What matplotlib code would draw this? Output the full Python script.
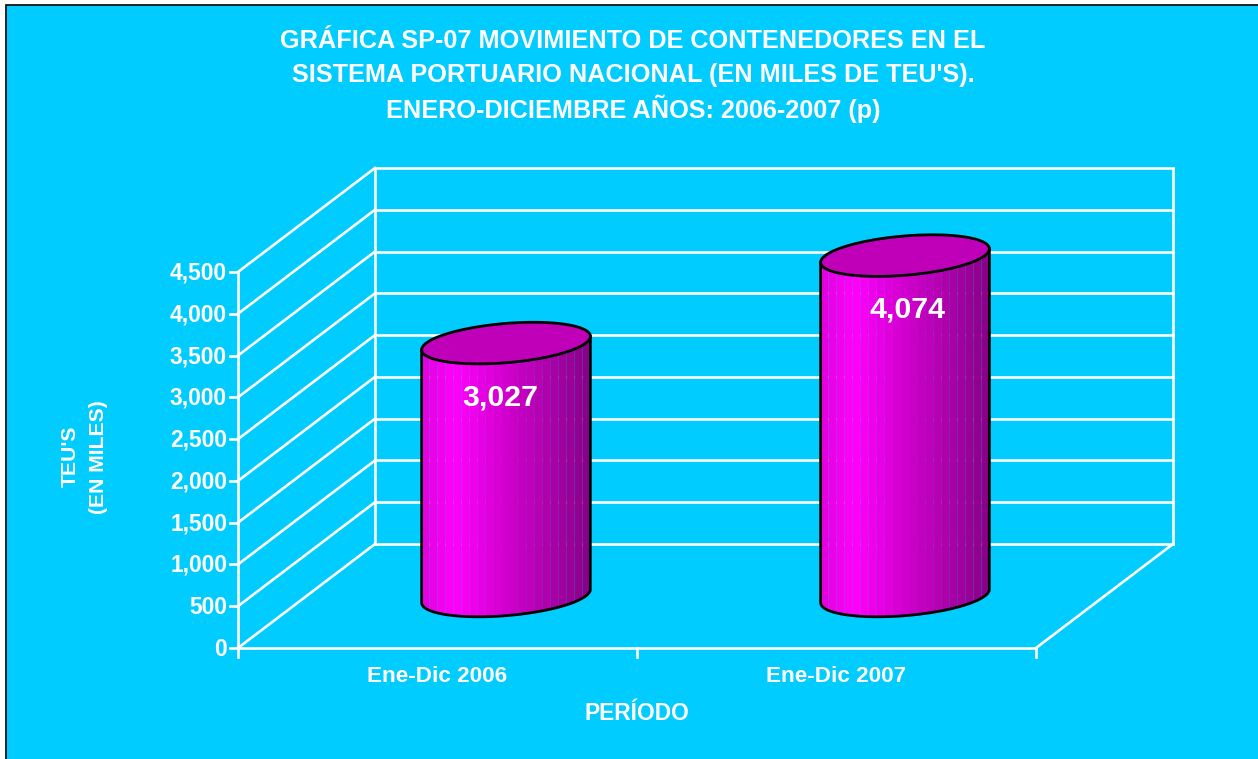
import numpy as np
import matplotlib
matplotlib.use('Agg')
import matplotlib.pyplot as plt
from matplotlib.patches import Rectangle, Polygon

periodos = ['Ene-Dic 2006', 'Ene-Dic 2007']
teus = [3027, 4074]
etiquetas = ['3,027', '4,074']
y_ticks = [0, 500, 1000, 1500, 2000, 2500, 3000, 3500, 4000, 4500]
y_labels = ['0', '500', '1,000', '1,500', '2,000', '2,500', '3,000', '3,500', '4,000', '4,500']
titulo = ["GRÁFICA SP-07 MOVIMIENTO DE CONTENEDORES EN EL",
          "SISTEMA PORTUARIO NACIONAL (EN MILES DE TEU'S).",
          "ENERO-DICIEMBRE AÑOS: 2006-2007 (p)"]

plt.rcParams['font.family'] = ['Liberation Sans', 'DejaVu Sans']

X0, Y0 = 238, 648      # origen del eje, en pixeles
CAT_W = 399            # ancho de cada categoria
Y_MAX = 4500
Y_H = 376
DX, DY = 137, -104     # desplazamiento de la pared del fondo
R_X, R_Z = 0.2, 0.2    # radio del cilindro
N_TIRAS = 21
ETQ_DX = [-6, 2]       # corrimiento de las etiquetas de valor
ETQ_DY = [54, 54]

def proy(x, v, z):
    # x en categorias, v en miles de TEU, z profundidad 0-1
    return X0 + np.asarray(x)*CAT_W + np.asarray(z)*DX, Y0 - np.asarray(v)*Y_H/Y_MAX + np.asarray(z)*DY

def color_tira(f):
    # brillo: sube al principio y luego baja hacia la derecha
    if f < 0.2:
        k = 0.88 + 0.12*f/0.2
    else:
        k = 1.0 - 0.47*(f-0.2)/0.8
    return (k, 0, k*0.98)

def linea(ax, p1, p2, lw=1.9):
    ax.plot([p1[0], p2[0]], [p1[1], p2[1]], color='white', lw=lw, solid_capstyle='projecting', zorder=2)

fig = plt.figure(figsize=(12.58, 7.59), dpi=100, facecolor='white')
ax = fig.add_axes([0, 0, 1, 1])
ax.set_xlim(0, 1258)
ax.set_ylim(759, 0)
ax.axis('off')
ax.add_patch(Rectangle((6, 5), 1300, 800, facecolor='#00CCFF', edgecolor='black', lw=1.2, zorder=0))

# paredes
for v in y_ticks:
    linea(ax, proy(0, v, 0), proy(0, v, 1))
    linea(ax, proy(0, v, 1), proy(2, v, 1))
linea(ax, proy(0, 0, 1), proy(0, Y_MAX, 1))
linea(ax, proy(2, 0, 1), proy(2, Y_MAX, 1))
linea(ax, proy(0, 0, 0), proy(2, 0, 0))
linea(ax, proy(2, 0, 0), proy(2, 0, 1))
linea(ax, proy(0, 0, 0), proy(0, Y_MAX, 0))

# ticks
for v, lab in zip(y_ticks, y_labels):
    px, py = proy(0, v, 0)
    ax.plot([px-8, px], [py, py], color='white', lw=1.9, zorder=2)
    ax.text(px-11, py+1, lab, color='white', fontsize=16.4, fontweight='bold', ha='right', va='center')
for i in range(3):
    px, py = proy(i, 0, 0)
    ax.plot([px, px], [py, py+9], color='white', lw=1.9, zorder=2)
for i, nom in enumerate(periodos):
    px, py = proy(i+0.5, 0, 0)
    ax.text(px, 676, nom, color='white', fontsize=16.2, fontweight='bold', ha='center', va='center')

# cilindros
t0 = np.arctan2(R_Z*DX, R_X*CAT_W)
for i, val in enumerate(teus):
    xc = i + 0.5
    ts = t0 - np.arccos(np.linspace(1, -1, N_TIRAS+1))
    tf = np.linspace(t0, t0-np.pi, 200)
    for j in range(N_TIRAS):
        tt = np.linspace(ts[j], ts[j+1], 6)
        bx, by = proy(xc + R_X*np.cos(tt), 0, 0.5 + R_Z*np.sin(tt))
        ax_, ay_ = proy(xc + R_X*np.cos(tt), val, 0.5 + R_Z*np.sin(tt))
        pts = np.column_stack([np.r_[bx, ax_[::-1]], np.r_[by, ay_[::-1]]])
        f = 1 - (j+0.5)/N_TIRAS
        ax.add_patch(Polygon(pts, closed=True, facecolor=color_tira(f), edgecolor='none', zorder=3))
    # contorno de abajo y lados
    bx, by = proy(xc + R_X*np.cos(tf), 0, 0.5 + R_Z*np.sin(tf))
    tx, ty = proy(xc + R_X*np.cos(tf), val, 0.5 + R_Z*np.sin(tf))
    ax.plot(np.r_[tx[0], bx, tx[-1]], np.r_[ty[0], by, ty[-1]], color='black', lw=2.0, zorder=4)
    # tapa
    ta = np.linspace(0, 2*np.pi, 200)
    ex, ey = proy(xc + R_X*np.cos(ta), val, 0.5 + R_Z*np.sin(ta))
    ax.add_patch(Polygon(np.column_stack([ex, ey]), closed=True, facecolor='#BF00B8', edgecolor='black', lw=2.0, zorder=5))
    cx, cy = proy(xc, val, 0.5)
    ax.text(cx+ETQ_DX[i], cy+ETQ_DY[i], etiquetas[i], color='white', fontsize=21.8, fontweight='bold', ha='center', va='center', zorder=6)

# textos
for k, lin in enumerate(titulo):
    ax.text(633, 41+34*k, lin, color='white', fontsize=18.2, fontweight='bold', ha='center', va='center')
ax.text(70, 456, "TEU'S", color='white', fontsize=15.2, fontweight='bold', rotation=90, ha='center', va='center')
ax.text(98, 457, "(EN MILES)", color='white', fontsize=15.2, fontweight='bold', rotation=90, ha='center', va='center')
ax.text(637, 714, "PERÍODO", color='white', fontsize=16.4, fontweight='bold', ha='center', va='center')

fig.savefig('out.png', dpi=100, facecolor='white')
